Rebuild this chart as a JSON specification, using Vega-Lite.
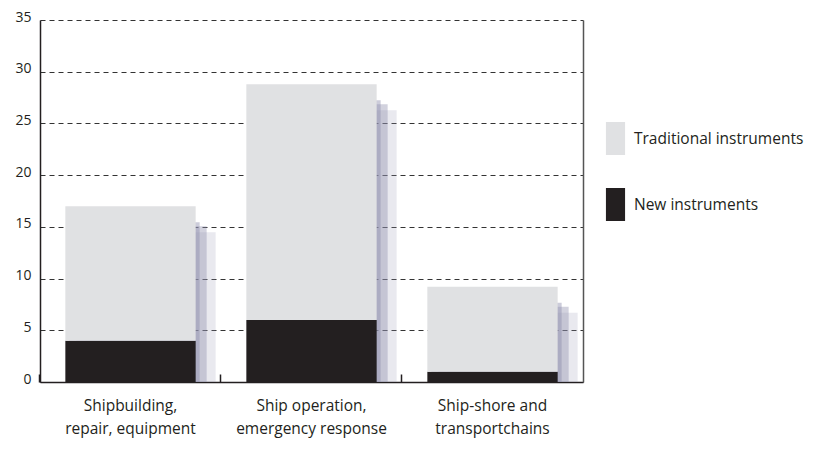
{
  "$schema": "https://vega.github.io/schema/vega-lite/v6.json",
  "autosize": "none",
  "width": 543,
  "height": 362,
  "padding": {"left": 40, "top": 20, "right": 237, "bottom": 79},
  "background": "white",
  "config": {
    "font": "Open Sans",
    "view": {"stroke": null},
    "axis": {"labelFont": "Open Sans", "labelColor": "#231f20", "labelFontSize": 14}
  },
  "data": {
    "values": [
      {"category": "Shipbuilding, repair, equipment", "type": "New instruments", "value": 4},
      {"category": "Shipbuilding, repair, equipment", "type": "Traditional instruments", "value": 13},
      {"category": "Ship operation, emergency response", "type": "New instruments", "value": 6},
      {"category": "Ship operation, emergency response", "type": "Traditional instruments", "value": 22.8},
      {"category": "Ship-shore and transportchains", "type": "New instruments", "value": 1},
      {"category": "Ship-shore and transportchains", "type": "Traditional instruments", "value": 8.2}
    ]
  },
  "encoding": {
    "x": {
      "field": "category",
      "type": "nominal",
      "sort": null,
      "scale": {"paddingInner": 0.28, "paddingOuter": 0.14},
      "axis": {
        "title": null,
        "labelAngle": 0,
        "labelExpr": "datum.value == 'Ship-shore and transportchains' ? ['Ship-shore and', 'transportchains'] : [slice(datum.value, 0, indexof(datum.value, ', ') + 1), slice(datum.value, indexof(datum.value, ', ') + 2)]",
        "labelFontSize": 15.5,
        "labelLineHeight": 23.5,
        "labelPadding": 24,
        "labelBaseline": "top",
        "bandPosition": -0.2,
        "tickSize": -8,
        "tickColor": "#231f20",
        "tickWidth": 1.5,
        "domainColor": "#231f20",
        "domainWidth": 1.5,
        "grid": false
      }
    }
  },
  "layer": [
    {
      "mark": {"type": "bar", "fill": "#9a9ab6", "opacity": 0.22, "xOffset": 20, "x2Offset": 20, "yOffset": 26},
      "encoding": {
        "y": {"aggregate": "sum", "field": "value", "type": "quantitative", "scale": {"domain": [0, 35]},
          "axis": {"orient": "right", "labels": false, "ticks": false, "grid": false, "title": null, "domainColor": "#555555", "domainWidth": 1.5}}
      }
    },
    {
      "mark": {"type": "bar", "fill": "#8e8eac", "opacity": 0.4, "xOffset": 11, "x2Offset": 11, "yOffset": 20},
      "encoding": {
        "y": {"aggregate": "sum", "field": "value", "type": "quantitative", "axis": null}
      }
    },
    {
      "mark": {"type": "bar", "fill": "#8e8eac", "opacity": 0.45, "xOffset": 4, "x2Offset": 4, "yOffset": 16},
      "encoding": {
        "y": {"aggregate": "sum", "field": "value", "type": "quantitative", "axis": null}
      }
    },
    {
      "mark": {"type": "bar"},
      "encoding": {
        "y": {
          "field": "value",
          "type": "quantitative",
          "stack": "zero",
          "axis": {
            "title": null,
            "values": [0, 5, 10, 15, 20, 25, 30, 35],
            "ticks": false,
            "labelPadding": 9,
            "labelBaseline": "alphabetic",
            "labelOffset": 1,
            "domainColor": "#231f20",
            "domainWidth": 1.5,
            "grid": true,
            "gridColor": "#333333",
            "gridDash": [5, 4],
            "gridWidth": 1
          }
        },
        "order": {"field": "type", "sort": "ascending"},
        "color": {
          "field": "type",
          "type": "nominal",
          "scale": {"domain": ["Traditional instruments", "New instruments"], "range": ["#e0e1e3", "#231f20"]},
          "legend": {
            "title": null,
            "orient": "none",
            "legendX": 559,
            "legendY": 102,
            "padding": 0,
            "symbolType": "M-0.58,-1H0.58V1H-0.58Z",
            "symbolSize": 1089,
            "symbolStrokeWidth": 0,
            "symbolOpacity": 1,
            "rowPadding": 33,
            "labelOffset": 2,
            "labelFont": "Open Sans",
            "labelFontSize": 15.5,
            "labelColor": "#231f20",
            "labelLimit": 300
          }
        }
      }
    }
  ],
  "resolve": {"axis": {"y": "independent"}}
}
